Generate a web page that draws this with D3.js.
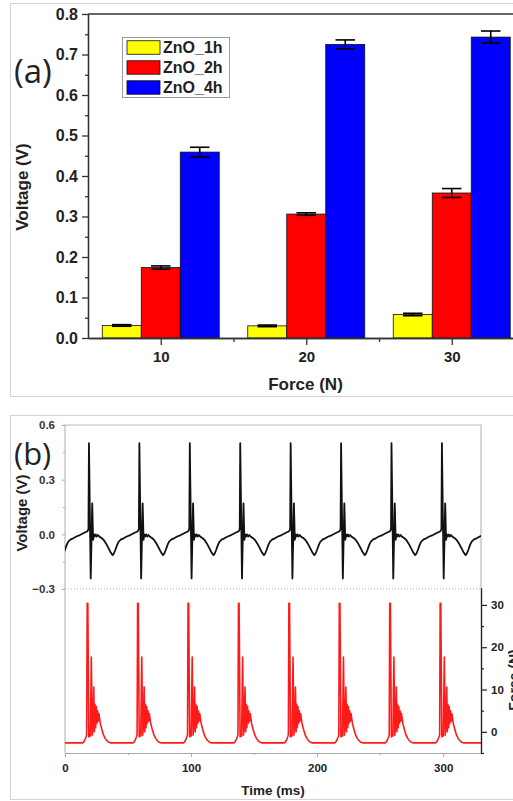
<!DOCTYPE html>
<html lang="en">
  <head>
    <meta charset="UTF-8" />
    <title>ZnO Voltage and Force</title>
    <script src="https://d3js.org/d3.v7.min.js"></script>
    <style>
      body {
        margin: 0;
        background: #fff;
      }
      svg {
        display: block;
        font-family: "Liberation Sans", Arial, sans-serif;
      }
      .axis text {
        font-weight: bold;
      }
    </style>
  </head>
  <body>
    <svg width="513" height="801"></svg>

    <script>
      // ---- panel (a) data ----
      const forces = [10, 20, 30];
      const seriesNames = ["ZnO_1h", "ZnO_2h", "ZnO_4h"];
      const seriesColors = ["#ffff00", "#ff0000", "#0000ff"];
      const voltage1h = [0.031, 0.03, 0.058];
      const voltage2h = [0.174, 0.306, 0.358];
      const voltage4h = [0.459, 0.725, 0.743];
      const err1h = [0.002, 0.002, 0.003];
      const err2h = [0.004, 0.003, 0.011];
      const err4h = [0.012, 0.011, 0.015];
      const voltTicksA = [0, 0.1, 0.2, 0.3, 0.4, 0.5, 0.6, 0.7, 0.8];

      // ---- panel (b) data ----
      // spike times (ms) of each beat, and one beat shape
      const beatTimes = [-21, 19, 59, 99, 139, 179, 219, 259, 299];
      // [ms from voltage spike, V]
      const voltBeat = [
        [-2.0, 0.014], [-1.0, 0.018], [-0.4, 0.03], [0, 0.5], [1.4, -0.242],
        [2.6, 0.17], [3.3, -0.03], [3.9, 0.0], [4.6, -0.012], [5.4, 0.0],
        [6.3, -0.012], [7.2, -0.004], [8.5, -0.014], [10, -0.02], [11.6, -0.03],
        [13.5, -0.05], [15.6, -0.077], [17.3, -0.1], [18.8, -0.114], [19.8, -0.105],
        [20.9, -0.086], [22.5, -0.055], [23.6, -0.04], [25.5, -0.028], [27.5, -0.022],
        [30, -0.012], [32.8, -0.004], [35.5, 0.006], [37.9, 0.014]
      ];
      // [ms from voltage spike, N]
      const forceBeat = [
        [-7, -2.6], [-5, -2.6], [-4, -2.3], [-3, -1.7], [-2.2, -1.1], [-1.8, -0.7],
        [-1.4, 30.4], [-0.9, 30.4], [-0.1, -1.2], [0.5, -0.5], [1.1, -1.0],
        [1.9, 17.7], [2.6, -0.8], [3.1, 1.0], [3.8, 10.6], [4.3, 0.0], [4.8, 6.5],
        [5.3, 1.0], [5.8, 6.0], [6.3, 2.0], [6.8, 5.0], [7.3, 2.5], [7.9, 4.3],
        [9.0, 2.0], [10.2, 0.6], [11.6, -0.8], [13, -1.6], [14.3, -2.1],
        [15.6, -2.45], [17, -2.6], [32.9, -2.6]
      ];
      const timeTicks = [0, 100, 200, 300];
      const voltTicksB = [-0.3, 0, 0.3, 0.6];
      const forceTicks = [0, 10, 20, 30];

      const svg = d3.select("svg");

      // panel borders
      svg.append("rect").attr("x", 10.5).attr("y", 3.5).attr("width", 520).attr("height", 393)
        .attr("fill", "none").attr("stroke", "#d4d4d4");
      svg.append("rect").attr("x", 10.5).attr("y", 415.5).attr("width", 520).attr("height", 384)
        .attr("fill", "none").attr("stroke", "#d4d4d4");

      // ================= panel (a) =================
      const xA = d3.scaleLinear().domain([5, 35]).range([88, 524.5]);
      const yA = d3.scaleLinear().domain([0, 0.8]).range([338, 14]);
      const values = [voltage1h, voltage2h, voltage4h];
      const errors = [err1h, err2h, err4h];
      const bw = xA(forces[0] + 2.68) - xA(forces[0]);

      const bars = [];
      values.forEach((vals, i) =>
        vals.forEach((v, j) => bars.push({s: i, f: forces[j], v: v, e: errors[i][j]}))
      );
      const bx = (d) => xA(d.f) + (d.s - 1) * bw;

      svg.append("g").selectAll("rect").data(bars).join("rect")
        .attr("x", (d) => bx(d) - bw / 2)
        .attr("y", (d) => yA(d.v))
        .attr("width", bw)
        .attr("height", (d) => yA(0) - yA(d.v))
        .attr("fill", (d) => seriesColors[d.s])
        .attr("stroke", "#111")
        .attr("stroke-width", 0.8);

      // error bars
      const eg = svg.append("g").attr("stroke", "#000").attr("stroke-width", 1.6);
      eg.selectAll("line.v").data(bars).join("line").attr("class", "v")
        .attr("x1", bx).attr("x2", bx)
        .attr("y1", (d) => yA(d.v + d.e)).attr("y2", (d) => yA(d.v - d.e));
      eg.selectAll("line.t").data(bars).join("line").attr("class", "t")
        .attr("x1", (d) => bx(d) - bw / 4).attr("x2", (d) => bx(d) + bw / 4)
        .attr("y1", (d) => yA(d.v + d.e)).attr("y2", (d) => yA(d.v + d.e));
      eg.selectAll("line.b").data(bars).join("line").attr("class", "b")
        .attr("x1", (d) => bx(d) - bw / 4).attr("x2", (d) => bx(d) + bw / 4)
        .attr("y1", (d) => yA(d.v - d.e)).attr("y2", (d) => yA(d.v - d.e));

      // top frame
      svg.append("line").attr("x1", xA(5)).attr("x2", xA(35))
        .attr("y1", yA(0.8)).attr("y2", yA(0.8))
        .attr("stroke", "#333").attr("stroke-width", 1.5);

      // Y axis (a)
      const minorA = voltTicksA.slice(1).map((t) => t - 0.05);
      svg.append("g").attr("class", "axis").attr("transform", `translate(${xA(5)},0)`)
        .call(d3.axisLeft(yA).tickValues(minorA).tickSize(3).tickSizeOuter(0).tickFormat(""))
        .call((g) => g.selectAll("path,line").attr("stroke", "#333").attr("stroke-width", 1.3));
      svg.append("g").attr("class", "axis").attr("transform", `translate(${xA(5)},0)`)
        .call(d3.axisLeft(yA).tickValues(voltTicksA).tickSize(6).tickSizeOuter(0)
          .tickPadding(4).tickFormat(d3.format(".1f")))
        .call((g) => g.selectAll("path,line").attr("stroke", "#333").attr("stroke-width", 1.3))
        .call((g) => g.selectAll("text").attr("font-size", 16).attr("fill", "#222"));

      // X axis (a)
      svg.append("g").attr("class", "axis").attr("transform", `translate(0,${yA(0)})`)
        .call(d3.axisBottom(xA).tickValues([15, 25]).tickSize(4).tickSizeOuter(0).tickFormat(""))
        .call((g) => g.selectAll("path,line").attr("stroke", "#333").attr("stroke-width", 1.3));
      svg.append("g").attr("class", "axis").attr("transform", `translate(0,${yA(0)})`)
        .call(d3.axisBottom(xA).tickValues(forces).tickSize(7).tickSizeOuter(0).tickPadding(6))
        .call((g) => g.selectAll("path,line").attr("stroke", "#333").attr("stroke-width", 1.3))
        .call((g) => g.selectAll("text").attr("font-size", 15).attr("fill", "#222"));

      svg.append("text").attr("x", 305.5).attr("y", 390).attr("text-anchor", "middle")
        .attr("font-size", 17).attr("font-weight", "bold").attr("fill", "#222").text("Force (N)");
      svg.append("text").attr("transform", "translate(28,187) rotate(-90)")
        .attr("text-anchor", "middle").attr("font-size", 17).attr("font-weight", "bold")
        .attr("fill", "#222").text("Voltage (V)");
      svg.append("text").attr("x", 14).attr("y", 83)
        .attr("font-family", "'Open Sans', sans-serif").attr("font-size", 33)
        .attr("fill", "#222").text("(a)");

      // legend
      const lg = svg.append("g");
      lg.append("rect").attr("x", 122.5).attr("y", 37.5).attr("width", 107).attr("height", 60)
        .attr("fill", "#fff").attr("stroke", "#999");
      seriesNames.forEach((name, i) => {
        const cy = 47.5 + i * 20;
        lg.append("rect").attr("x", 127).attr("y", cy - 6.75).attr("width", 33).attr("height", 13.5)
          .attr("fill", seriesColors[i]).attr("stroke", "#111").attr("stroke-width", 0.8);
        lg.append("text").attr("x", 163).attr("y", cy + 5.5).attr("font-size", 16)
          .attr("font-weight", "bold").attr("fill", "#222").text(name);
      });

      // ================= panel (b) =================
      const xB = d3.scaleLinear().domain([0, 330]).range([65, 481]);
      const yV = d3.scaleLinear().domain([-0.3, 0.6]).range([589, 425]);
      const yF = d3.scaleLinear().domain([-5, 34]).range([753, 588]);

      svg.append("clipPath").attr("id", "clipB").append("rect")
        .attr("x", 65).attr("y", 420).attr("width", 416).attr("height", 335);

      // frames of panel (b)
      svg.append("path")
        .attr("d", `M${xB(0)},${yF(-5)}V${yV(0.6)}H${xB(330)}V${yV(-0.3)}`)
        .attr("fill", "none").attr("stroke", "#bbb").attr("stroke-width", 1.2);
      svg.append("line").attr("x1", xB(0)).attr("x2", xB(330))
        .attr("y1", yV(-0.3)).attr("y2", yV(-0.3))
        .attr("stroke", "#aaa").attr("stroke-dasharray", "1,2");

      const voltPts = beatTimes.flatMap((b) => voltBeat.map(([dt, v]) => ({t: b + dt, y: v})));
      const forcePts = beatTimes.flatMap((b) => forceBeat.map(([dt, f]) => ({t: b + dt, y: f})));

      svg.append("path").datum(forcePts).attr("clip-path", "url(#clipB)")
        .attr("fill", "none").attr("stroke", "#ff1a1a").attr("stroke-width", 1.6)
        .attr("stroke-linejoin", "round")
        .attr("d", d3.line().x((d) => xB(d.t)).y((d) => yF(d.y)));
      svg.append("path").datum(voltPts).attr("clip-path", "url(#clipB)")
        .attr("fill", "none").attr("stroke", "#111").attr("stroke-width", 1.8)
        .attr("stroke-linejoin", "round")
        .attr("d", d3.line().x((d) => xB(d.t)).y((d) => yV(d.y)));

      // left voltage axis
      const minorV = [-0.15, 0.15, 0.45];
      svg.append("g").attr("transform", `translate(${xB(0)},0)`)
        .call(d3.axisLeft(yV).tickValues(minorV).tickSize(2).tickSizeOuter(0).tickFormat(""))
        .call((g) => g.select(".domain").remove())
        .call((g) => g.selectAll("line").attr("stroke", "#aaa"));
      svg.append("g").attr("class", "axis").attr("transform", `translate(${xB(0)},0)`)
        .call(d3.axisLeft(yV).tickValues(voltTicksB).tickSize(3).tickPadding(7)
          .tickFormat(d3.format(".1f")))
        .call((g) => g.select(".domain").remove())
        .call((g) => g.selectAll("line").attr("stroke", "#aaa"))
        .call((g) => g.selectAll("text").attr("font-size", 11.5).attr("fill", "#333"));

      // bottom time axis
      svg.append("g").attr("transform", `translate(0,${yF(-5)})`)
        .call(d3.axisBottom(xB).tickValues([50, 150, 250]).tickSize(2).tickSizeOuter(0).tickFormat(""))
        .call((g) => g.selectAll("path,line").attr("stroke", "#aaa"));
      svg.append("g").attr("class", "axis").attr("transform", `translate(0,${yF(-5)})`)
        .call(d3.axisBottom(xB).tickValues(timeTicks).tickSize(4).tickSizeOuter(0).tickPadding(7))
        .call((g) => g.selectAll("path,line").attr("stroke", "#aaa"))
        .call((g) => g.selectAll("text").attr("font-size", 11.5).attr("fill", "#222"));

      // right force axis
      svg.append("g").attr("transform", `translate(${xB(330)},0)`)
        .call(d3.axisRight(yF).tickValues([-5, 5, 15, 25]).tickSize(3).tickSizeOuter(0).tickFormat(""))
        .call((g) => g.selectAll("path,line").attr("stroke", "#222").attr("stroke-width", 1.2));
      svg.append("g").attr("class", "axis").attr("transform", `translate(${xB(330)},0)`)
        .call(d3.axisRight(yF).tickValues(forceTicks).tickSize(6).tickSizeOuter(0).tickPadding(4))
        .call((g) => g.selectAll("path,line").attr("stroke", "#222").attr("stroke-width", 1.2))
        .call((g) => g.selectAll("text").attr("font-size", 11.5).attr("fill", "#222"));

      svg.append("text").attr("x", 273).attr("y", 795).attr("text-anchor", "middle")
        .attr("font-size", 13.5).attr("font-weight", "bold").attr("fill", "#222").text("Time (ms)");
      svg.append("text").attr("transform", "translate(27,513) rotate(-90)")
        .attr("text-anchor", "middle").attr("font-size", 15).attr("font-weight", "bold")
        .attr("fill", "#222").text("Voltage (V)");
      // right axis title is cropped by the figure edge, as in the source image
      svg.append("text").attr("transform", "translate(519,680) rotate(-90)")
        .attr("text-anchor", "middle").attr("font-size", 14).attr("font-weight", "bold")
        .attr("fill", "#222").text("Force (N)");
      svg.append("text").attr("x", 14).attr("y", 465)
        .attr("font-family", "'Open Sans', sans-serif").attr("font-size", 31)
        .attr("fill", "#222").text("(b)");
    </script>
  </body>
</html>
